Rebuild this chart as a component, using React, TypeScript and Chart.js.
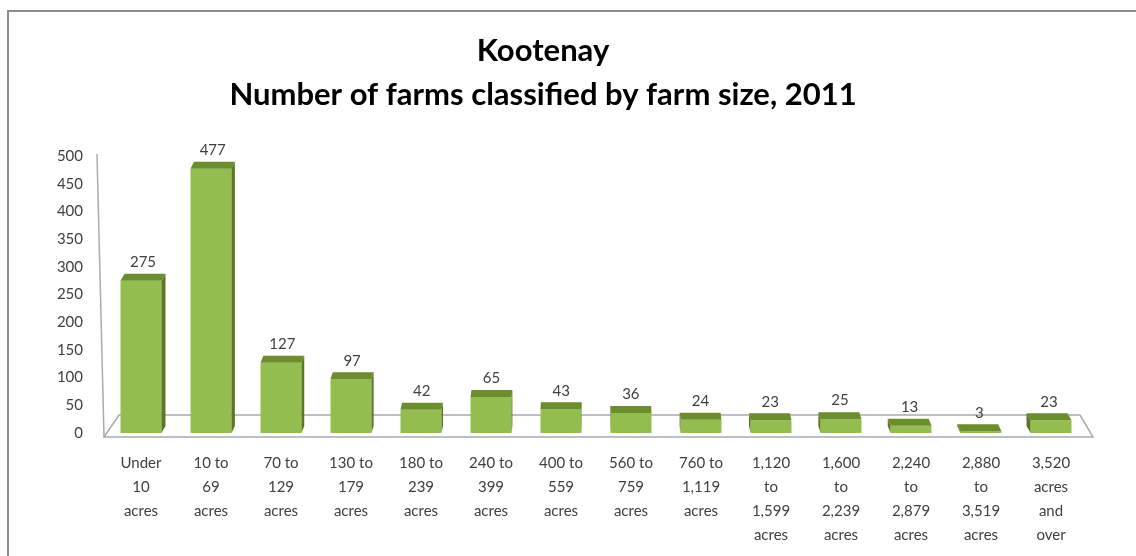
import React, { useEffect, useRef } from "react";
import { Chart, registerables } from "chart.js";

Chart.register(...registerables);

const titleLines: string[] = ["Kootenay", "Number of farms classified by farm size, 2011"];

const categories: string[][] = [
  ["Under", "10", "acres"],
  ["10 to", "69", "acres"],
  ["70 to", "129", "acres"],
  ["130 to", "179", "acres"],
  ["180 to", "239", "acres"],
  ["240 to", "399", "acres"],
  ["400 to", "559", "acres"],
  ["560 to", "759", "acres"],
  ["760 to", "1,119", "acres"],
  ["1,120", "to", "1,599", "acres"],
  ["1,600", "to", "2,239", "acres"],
  ["2,240", "to", "2,879", "acres"],
  ["2,880", "to", "3,519", "acres"],
  ["3,520", "acres", "and", "over"],
];

const farmCounts: number[] = [275, 477, 127, 97, 42, 65, 43, 36, 24, 23, 25, 13, 3, 23];

const yMin = 0;
const yMax = 500;
const yStep = 50;

const FONT = "Lato, 'Liberation Sans', sans-serif";
const TEXT = "#404040";
const FRONT = "#93bd4f";
const TOP = "#6b8d2c";
const SIDE = "#5a7724";
const FLOOR_LINE = "#a9a9b3";

const bar3d = {
  id: "bar3d",
  beforeDatasetsDraw(chart: any) {
    const { ctx, chartArea } = chart;
    const { left, right, top, bottom } = chartArea;
    ctx.save();
    ctx.strokeStyle = FLOOR_LINE;
    ctx.lineWidth = 1.5;
    ctx.fillStyle = "#ffffff";
    ctx.beginPath();
    ctx.moveTo(left - 2, bottom + 4);
    ctx.lineTo(right + 7, bottom + 4);
    ctx.lineTo(right - 6, bottom - 18);
    ctx.lineTo(left + 13, bottom - 18);
    ctx.closePath();
    ctx.fill();
    ctx.stroke();
    // vertical axis
    ctx.beginPath();
    ctx.moveTo(left - 2, bottom + 4);
    ctx.lineTo(left - 9, top - 2);
    ctx.stroke();
    ctx.restore();
  },
  afterDatasetsDraw(chart: any) {
    const { ctx } = chart;
    const meta = chart.getDatasetMeta(0);
    const n = meta.data.length;
    const dy = 7;
    ctx.save();
    meta.data.forEach((el: any, i: number) => {
      const props = el.getProps(["x", "y", "base", "width"], true);
      const x0 = props.x - props.width / 2;
      const x1 = props.x + props.width / 2;
      const y = props.y;
      const base = props.base;
      const dx = 4 - (8 * i) / (n - 1);
      // side face
      ctx.fillStyle = SIDE;
      ctx.beginPath();
      if (dx >= 0) {
        ctx.moveTo(x1, y);
        ctx.lineTo(x1 + dx, y - dy);
        ctx.lineTo(x1 + dx, base - dy);
        ctx.lineTo(x1, base);
      } else {
        ctx.moveTo(x0, y);
        ctx.lineTo(x0 + dx, y - dy);
        ctx.lineTo(x0 + dx, base - dy);
        ctx.lineTo(x0, base);
      }
      ctx.closePath();
      ctx.fill();
      // top face
      ctx.fillStyle = TOP;
      ctx.beginPath();
      ctx.moveTo(x0, y);
      ctx.lineTo(x1, y);
      ctx.lineTo(x1 + dx, y - dy);
      ctx.lineTo(x0 + dx, y - dy);
      ctx.closePath();
      ctx.fill();
      // value label
      ctx.fillStyle = TEXT;
      ctx.font = `15px ${FONT}`;
      ctx.textAlign = "center";
      ctx.textBaseline = "bottom";
      ctx.fillText(String(farmCounts[i]), props.x + dx / 2, y - dy - 4);
    });
    ctx.restore();
  },
};

export default function App() {
  const canvasRef = useRef<HTMLCanvasElement | null>(null);

  useEffect(() => {
    if (!canvasRef.current) return;
    const chart = new Chart(canvasRef.current, {
      type: "bar",
      data: {
        labels: categories,
        datasets: [
          {
            data: farmCounts,
            backgroundColor: FRONT,
            borderWidth: 0,
            barPercentage: 0.65,
            categoryPercentage: 0.9,
          },
        ],
      },
      options: {
        animation: false,
        responsive: false,
        maintainAspectRatio: false,
        layout: { padding: { left: 0, right: 50, top: 0, bottom: 0 } },
        plugins: {
          legend: { display: false },
          tooltip: { enabled: false },
          title: {
            display: true,
            text: titleLines,
            color: "#000000",
            font: { family: FONT, size: 31, weight: "bold", lineHeight: "44px" as any },
            padding: { top: 29, bottom: 39 },
          },
        },
        scales: {
          x: {
            grid: { display: false, drawTicks: false },
            border: { display: false },
            ticks: {
              color: TEXT,
              font: { family: FONT, size: 15, lineHeight: "24px" as any },
              maxRotation: 0,
              minRotation: 0,
              autoSkip: false,
              padding: 18,
            },
            afterFit: (s: any) => {
              s.height = 123;
            },
          },
          y: {
            min: yMin,
            max: yMax,
            grid: { display: false, drawTicks: false },
            border: { display: false },
            ticks: {
              stepSize: yStep,
              color: TEXT,
              font: { family: FONT, size: 15 },
              padding: 23,
            },
            afterFit: (s: any) => {
              s.width = 106;
            },
          },
        },
      },
      plugins: [bar3d],
    });
    return () => chart.destroy();
  }, []);

  return (
    <div style={{ position: "fixed", left: 0, top: 0, width: 1136, height: 556, background: "#ffffff", overflow: "hidden" }}>
      <div
        style={{
          position: "absolute",
          left: 7,
          top: 10,
          right: -10,
          bottom: -10,
          borderTop: "2px solid #8c8c8c",
          borderLeft: "2px solid #8c8c8c",
        }}
      />
      <canvas ref={canvasRef} width={1136} height={556} style={{ position: "absolute", left: 0, top: 0, display: "block" }} />
    </div>
  );
}
